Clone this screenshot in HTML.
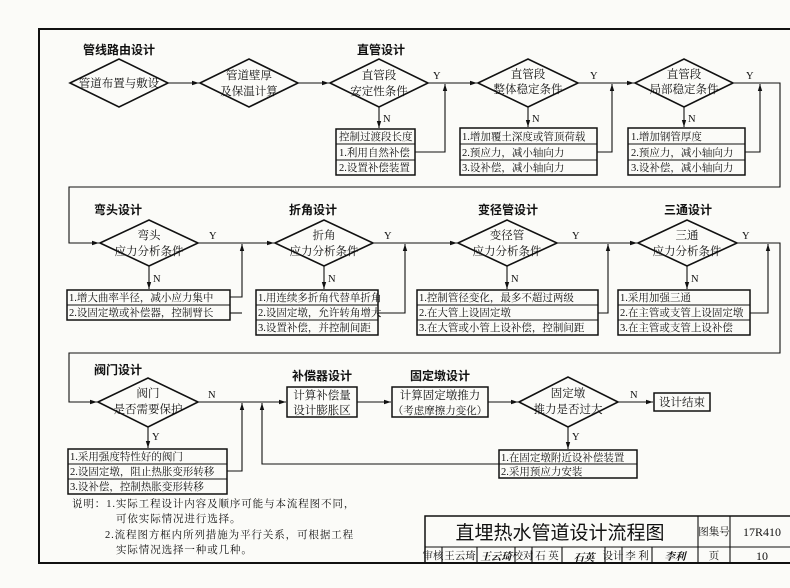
<!DOCTYPE html>
<html><head><meta charset="utf-8">
<style>
html,body{margin:0;padding:0;background:#fbfbf8;}
svg{display:block;}
text{font-family:"Liberation Serif","Noto Serif CJK SC",serif;font-size:10.5px;fill:#111;}
.t{font-family:"Liberation Sans","Noto Sans CJK SC",sans-serif;font-weight:bold;font-size:12px;}
.l{font-family:"Liberation Serif","Noto Serif CJK SC",serif;font-size:10px;}
.d text{font-size:11.5px;}
.n text{font-size:10.5px;letter-spacing:0.9px;}
</style></head><body>
<svg width="790" height="588" viewBox="0 0 790 588" xmlns="http://www.w3.org/2000/svg">
<defs>
<marker id="a" markerWidth="8" markerHeight="6" refX="7" refY="3" orient="auto" markerUnits="userSpaceOnUse">
<path d="M0,0.8 L7,3 L0,5.2 Z" fill="#111"/></marker>
</defs>
<g fill="none" stroke="#111" stroke-width="1.1">
<path d="M790,29 H39 V563 H790" stroke-width="2"/>
<polygon points="70,83 119,59 168,83 119,107" stroke-width="1.6"/>
<polygon points="200,83 249,59 298,83 249,107" stroke-width="1.6"/>
<polygon points="330,83 379,59 428,83 379,107" stroke-width="1.6"/>
<polygon points="478,83 528,59 578,83 528,107" stroke-width="1.6"/>
<polygon points="635,83 684,59 733,83 684,107" stroke-width="1.6"/>
<line x1="168" y1="83" x2="199" y2="83" marker-end="url(#a)"/>
<line x1="298" y1="83" x2="329" y2="83" marker-end="url(#a)"/>
<line x1="428" y1="83" x2="477" y2="83" marker-end="url(#a)"/>
<line x1="578" y1="83" x2="634" y2="83" marker-end="url(#a)"/>
<path d="M733,83 H780 V187 H69 V243 H99" marker-end="url(#a)"/>
<line x1="379" y1="107" x2="379" y2="128" marker-end="url(#a)"/>
<line x1="528" y1="107" x2="528" y2="127" marker-end="url(#a)"/>
<line x1="684" y1="107" x2="684" y2="127" marker-end="url(#a)"/>
<rect x="336" y="129" width="79" height="46" stroke-width="1.5"/>
<line x1="336" y1="144" x2="415" y2="144"/><line x1="336" y1="160" x2="415" y2="160"/>
<rect x="460" y="128" width="137" height="47" stroke-width="1.5"/>
<line x1="460" y1="144" x2="597" y2="144"/><line x1="460" y1="160" x2="597" y2="160"/>
<rect x="628" y="128" width="117" height="47" stroke-width="1.5"/>
<line x1="628" y1="144" x2="745" y2="144"/><line x1="628" y1="160" x2="745" y2="160"/>
<path d="M415,152 H445 V84" marker-end="url(#a)"/>
<path d="M597,152 H612 V84" marker-end="url(#a)"/>
<path d="M745,152 H760 V84" marker-end="url(#a)"/>
<polygon points="100,243 149,220 198,243 149,266" stroke-width="1.6"/>
<polygon points="275,243 324,220 373,243 324,266" stroke-width="1.6"/>
<polygon points="458,243 507,220 557,243 507,266" stroke-width="1.6"/>
<polygon points="638,243 687,220 737,243 687,266" stroke-width="1.6"/>
<line x1="198" y1="243" x2="274" y2="243" marker-end="url(#a)"/>
<line x1="373" y1="243" x2="457" y2="243" marker-end="url(#a)"/>
<line x1="557" y1="243" x2="637" y2="243" marker-end="url(#a)"/>
<path d="M737,243 H780 V353 H69 V402 H97" marker-end="url(#a)"/>
<line x1="149" y1="266" x2="149" y2="289" marker-end="url(#a)"/>
<line x1="324" y1="266" x2="324" y2="289" marker-end="url(#a)"/>
<line x1="507" y1="266" x2="507" y2="289" marker-end="url(#a)"/>
<line x1="687" y1="266" x2="687" y2="289" marker-end="url(#a)"/>
<rect x="67" y="290" width="163" height="30" stroke-width="1.5"/>
<line x1="67" y1="305" x2="230" y2="305"/>
<rect x="256" y="290" width="122" height="45" stroke-width="1.5"/>
<line x1="256" y1="305" x2="378" y2="305"/><line x1="256" y1="320" x2="378" y2="320"/>
<rect x="417" y="290" width="181" height="45" stroke-width="1.5"/>
<line x1="417" y1="305" x2="598" y2="305"/><line x1="417" y1="320" x2="598" y2="320"/>
<rect x="618" y="290" width="132" height="45" stroke-width="1.5"/>
<line x1="618" y1="305" x2="750" y2="305"/><line x1="618" y1="320" x2="750" y2="320"/>
<path d="M230,297 H242 V244" marker-end="url(#a)"/>
<path d="M230,313 H242"/>
<path d="M378,313 H405 V244" marker-end="url(#a)"/>
<path d="M598,313 H608 V244" marker-end="url(#a)"/>
<path d="M750,313 H768 V244" marker-end="url(#a)"/>
<polygon points="98,402 148,378 198,402 148,427" stroke-width="1.6"/>
<line x1="198" y1="402" x2="286" y2="402" marker-end="url(#a)"/>
<rect x="287" y="387" width="70" height="30" stroke-width="1.5"/>
<line x1="357" y1="402" x2="391" y2="402" marker-end="url(#a)"/>
<rect x="392" y="387" width="96" height="30" stroke-width="1.5"/>
<line x1="488" y1="402" x2="518" y2="402" marker-end="url(#a)"/>
<polygon points="519,402 568,377 618,402 568,427" stroke-width="1.6"/>
<line x1="618" y1="402" x2="653" y2="402" marker-end="url(#a)"/>
<rect x="654" y="393" width="56" height="18" stroke-width="1.5"/>
<line x1="568" y1="427" x2="568" y2="449" marker-end="url(#a)"/>
<rect x="499" y="450" width="138" height="28" stroke-width="1.5"/>
<line x1="499" y1="464" x2="637" y2="464"/>
<path d="M499,464 H262 V403" marker-end="url(#a)"/>
<line x1="148" y1="427" x2="148" y2="448" marker-end="url(#a)"/>
<rect x="68" y="449" width="159" height="45" stroke-width="1.5"/>
<line x1="68" y1="464" x2="227" y2="464"/><line x1="68" y1="479" x2="227" y2="479"/>
<path d="M227,471 H242 V403" marker-end="url(#a)"/>
<rect x="425" y="516" width="366" height="47" stroke-width="1.5"/>
<line x1="425" y1="547" x2="790" y2="547"/>
<line x1="698" y1="516" x2="698" y2="563"/><line x1="730" y1="516" x2="730" y2="563"/>
<line x1="442" y1="547" x2="442" y2="563"/><line x1="477" y1="547" x2="477" y2="563"/>
<line x1="515" y1="547" x2="515" y2="563"/><line x1="532" y1="547" x2="532" y2="563"/>
<line x1="562" y1="547" x2="562" y2="563"/><line x1="605" y1="547" x2="605" y2="563"/>
<line x1="622" y1="547" x2="622" y2="563"/><line x1="652" y1="547" x2="652" y2="563"/>
</g>
<text class="t" x="119" y="54" text-anchor="middle">管线路由设计</text>
<text class="t" x="381" y="54" text-anchor="middle">直管设计</text>
<text class="t" x="118" y="214" text-anchor="middle">弯头设计</text>
<text class="t" x="313" y="214" text-anchor="middle">折角设计</text>
<text class="t" x="508" y="214" text-anchor="middle">变径管设计</text>
<text class="t" x="688" y="214" text-anchor="middle">三通设计</text>
<text class="t" x="118" y="374" text-anchor="middle">阀门设计</text>
<text class="t" x="322" y="380" text-anchor="middle">补偿器设计</text>
<text class="t" x="440" y="380" text-anchor="middle">固定墩设计</text>
<g text-anchor="middle" class="d">
<text x="119" y="87">管道布置与敷设</text>
<text x="249" y="79">管道壁厚</text><text x="249" y="95">及保温计算</text>
<text x="379" y="79">直管段</text><text x="379" y="95">安定性条件</text>
<text x="528" y="78">直管段</text><text x="528" y="93">整体稳定条件</text>
<text x="684" y="78">直管段</text><text x="684" y="93">局部稳定条件</text>
<text x="149" y="239">弯头</text><text x="149" y="255">应力分析条件</text>
<text x="324" y="239">折角</text><text x="324" y="255">应力分析条件</text>
<text x="507" y="239">变径管</text><text x="507" y="255">应力分析条件</text>
<text x="687" y="239">三通</text><text x="687" y="255">应力分析条件</text>
<text x="148" y="397">阀门</text><text x="148" y="413">是否需要保护</text>
<text x="568" y="397">固定墩</text><text x="568" y="413">推力是否过大</text>
<text x="322" y="399">计算补偿量</text><text x="322" y="414">设计膨胀区</text>
<text x="440" y="399">计算固定墩推力</text><text x="440" y="414" style="font-size:10.5px">（考虑摩擦力变化）</text>
<text x="682" y="406">设计结束</text>
</g>
<g class="l">
<text x="433" y="79">Y</text><text x="590" y="79">Y</text><text x="746" y="79">Y</text>
<text x="383" y="122">N</text><text x="532" y="122">N</text><text x="688" y="122">N</text>
<text x="209" y="239">Y</text><text x="384" y="239">Y</text><text x="572" y="239">Y</text><text x="742" y="239">Y</text>
<text x="153" y="282">N</text><text x="328" y="282">N</text><text x="511" y="282">N</text><text x="691" y="282">N</text>
<text x="208" y="398">N</text><text x="630" y="398">N</text>
<text x="152" y="440">Y</text><text x="572" y="440">Y</text>
</g>
<g>
<text x="339" y="140">控制过渡段长度</text>
<text x="339" y="156">1.利用自然补偿</text>
<text x="339" y="171">2.设置补偿装置</text>
<text x="462" y="140">1.增加覆土深度或管顶荷载</text>
<text x="462" y="156">2.预应力，减小轴向力</text>
<text x="462" y="171">3.设补偿，减小轴向力</text>
<text x="631" y="140">1.增加钢管厚度</text>
<text x="631" y="156">2.预应力，减小轴向力</text>
<text x="631" y="171">3.设补偿，减小轴向力</text>
<text x="69" y="301">1.增大曲率半径，减小应力集中</text>
<text x="69" y="316">2.设固定墩或补偿器，控制臂长</text>
<text x="258" y="301">1.用连续多折角代替单折角</text>
<text x="258" y="316">2.设固定墩，允许转角增大</text>
<text x="258" y="331">3.设置补偿，并控制间距</text>
<text x="419" y="301">1.控制管径变化，最多不超过两级</text>
<text x="419" y="316">2.在大管上设固定墩</text>
<text x="419" y="331">3.在大管或小管上设补偿，控制间距</text>
<text x="620" y="301">1.采用加强三通</text>
<text x="620" y="316">2.在主管或支管上设固定墩</text>
<text x="620" y="331">3.在主管或支管上设补偿</text>
<text x="70" y="460">1.采用强度特性好的阀门</text>
<text x="70" y="475">2.设固定墩，阻止热胀变形转移</text>
<text x="70" y="490">3.设补偿，控制热胀变形转移</text>
<text x="501" y="461">1.在固定墩附近设补偿装置</text>
<text x="501" y="475">2.采用预应力安装</text>
</g>
<g class="n">
<text x="72" y="507">说明：1.实际工程设计内容及顺序可能与本流程图不同，</text>
<text x="116" y="522">可依实际情况进行选择。</text>
<text x="105" y="538">2.流程图方框内所列措施为平行关系，可根据工程</text>
<text x="116" y="553">实际情况选择一种或几种。</text>
</g>
<text x="560" y="539" text-anchor="middle" style="font-family:'Liberation Sans','Noto Sans CJK SC',sans-serif;font-size:19px;">直埋热水管道设计流程图</text>
<g style="font-size:9.5px" text-anchor="middle">
<text x="714" y="535">图集号</text>
<text x="714" y="559">页</text>
<text x="433" y="559">审核</text>
<text x="460" y="559">王云琦</text>
<text x="523" y="559">校对</text>
<text x="547" y="559">石 英</text>
<text x="613" y="559">设计</text>
<text x="637" y="559">李 利</text>
</g>
<text x="762" y="536" text-anchor="middle" style="font-size:12px">17R410</text>
<text x="762" y="560" text-anchor="middle" style="font-size:12px">10</text>
<g style="font-family:'Liberation Serif','Noto Serif CJK SC',serif;font-size:13px;font-style:italic;font-weight:bold" text-anchor="middle">
<text x="496" y="560">王云琦</text>
<text x="584" y="561">石英</text>
<text x="675" y="560">李利</text>
</g>
</svg>
</body></html>
